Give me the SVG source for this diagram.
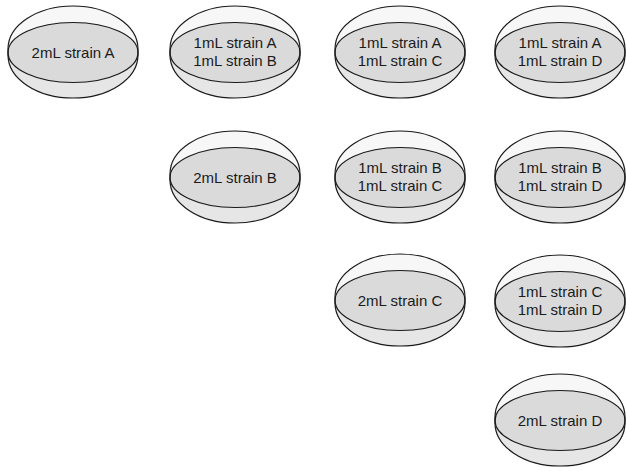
<svg xmlns="http://www.w3.org/2000/svg" xmlns:xlink="http://www.w3.org/1999/xlink" width="626" height="471" viewBox="0 0 626 471">
  <style>
    .label { font-family: "Liberation Sans", Arial, sans-serif; font-size: 15px; fill: #1a1a1a; text-anchor: middle; }
    .rim { fill: #e6e6e6; stroke: none; }
    .lid { fill: #f7f7f7; stroke: none; }
    .agar { fill: #dadada; stroke: #1a1a1a; stroke-width: 1.2; }
    .outline { fill: none; stroke: #1a1a1a; stroke-width: 1.2; }
  </style>
  <defs>
    <!-- petri dish seen at an angle, centred on (0,0) -->
    <g id="dish">
      <path class="rim" d="M-65,-3 A65,43 0 0 1 65,-3 L65,3 A65,43 0 0 1 -65,3 Z"/>
      <path class="lid" d="M-64.4,-3 A64.4,42.4 0 0 1 64.4,-3 L64.4,0 A64.4,30 0 0 0 -64.4,0 Z"/>
      <ellipse class="agar" cx="0" cy="0.5" rx="65" ry="30"/>
      <path class="outline" d="M-65,-3 A65,43 0 0 1 65,-3 L65,3 A65,43 0 0 1 -65,3 Z"/>
    </g>
  </defs>

  <rect width="626" height="471" fill="#ffffff"/>

  <!-- row 1 -->
  <g id="dish-2A" transform="translate(73,52)">
    <use xlink:href="#dish"/>
    <text class="label" x="0" y="5.5">2mL strain A</text>
  </g>
  <g id="dish-AB" transform="translate(235,52)">
    <use xlink:href="#dish"/>
    <text class="label" x="0" y="-4">1mL strain A</text>
    <text class="label" x="0" y="14">1mL strain B</text>
  </g>
  <g id="dish-AC" transform="translate(400,52)">
    <use xlink:href="#dish"/>
    <text class="label" x="0" y="-4">1mL strain A</text>
    <text class="label" x="0" y="14">1mL strain C</text>
  </g>
  <g id="dish-AD" transform="translate(560,52)">
    <use xlink:href="#dish"/>
    <text class="label" x="0" y="-4">1mL strain A</text>
    <text class="label" x="0" y="14">1mL strain D</text>
  </g>

  <!-- row 2 -->
  <g id="dish-2B" transform="translate(235,177)">
    <use xlink:href="#dish"/>
    <text class="label" x="0" y="5.5">2mL strain B</text>
  </g>
  <g id="dish-BC" transform="translate(400,177)">
    <use xlink:href="#dish"/>
    <text class="label" x="0" y="-4">1mL strain B</text>
    <text class="label" x="0" y="14">1mL strain C</text>
  </g>
  <g id="dish-BD" transform="translate(560,177)">
    <use xlink:href="#dish"/>
    <text class="label" x="0" y="-4">1mL strain B</text>
    <text class="label" x="0" y="14">1mL strain D</text>
  </g>

  <!-- row 3 -->
  <g id="dish-2C" transform="translate(400,300)">
    <use xlink:href="#dish"/>
    <text class="label" x="0" y="5.5">2mL strain C</text>
  </g>
  <g id="dish-CD" transform="translate(560,301)">
    <use xlink:href="#dish"/>
    <text class="label" x="0" y="-4">1mL strain C</text>
    <text class="label" x="0" y="14">1mL strain D</text>
  </g>

  <!-- row 4 -->
  <g id="dish-2D" transform="translate(560,420)">
    <use xlink:href="#dish"/>
    <text class="label" x="0" y="5.5">2mL strain D</text>
  </g>

  <g id="connectors"/>
</svg>
